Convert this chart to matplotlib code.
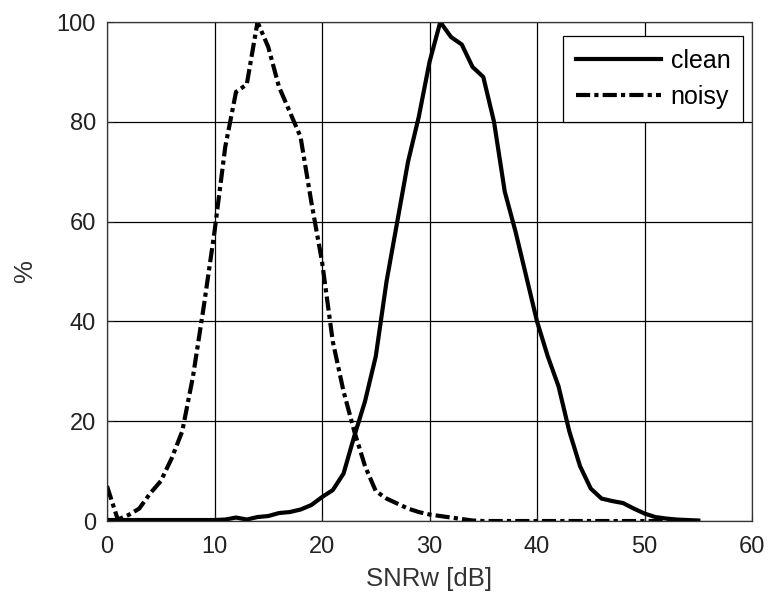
import matplotlib.pyplot as plt

plt.rcParams['font.family'] = ['Liberation Sans', 'DejaVu Sans']

# SNRw axis (dB)
snr = list(range(0, 56))

# histogram of clean speech (%)
clean = [0.2, 0.2, 0.2, 0.2, 0.2, 0.2, 0.2, 0.2, 0.2, 0.2,
         0.2, 0.3, 0.7, 0.3, 0.8, 1.0, 1.6, 1.8, 2.3, 3.2,
         4.8, 6.2, 9.5, 17, 24, 33, 48, 60, 72, 81,
         92, 100, 97, 95.5, 91, 89, 80, 66, 58, 49,
         40, 33, 27, 18, 11, 6.5, 4.5, 4.0, 3.6, 2.5,
         1.5, 0.8, 0.5, 0.3, 0.2, 0.1]

# histogram of noisy speech (%)
noisy = [7, 0.3, 1.2, 2.5, 5.5, 8, 12.5, 18, 29, 43,
         58, 75, 86, 87.5, 100, 95, 87, 82, 77, 64,
         52, 36, 26, 18, 11, 6, 4.5, 3.5, 2.5, 1.8,
         1.3, 1.0, 0.7, 0.4, 0.1, 0, 0, 0, 0, 0,
         0, 0, 0, 0, 0, 0, 0, 0, 0, 0,
         0, 0, 0, 0, 0, 0]

fig = plt.figure(figsize=(7.71, 5.96), dpi=100)
ax = fig.add_axes([0.1388, 0.1258, 0.8366, 0.8372])

ax.plot(snr, clean, '-', color='black', linewidth=3, label='clean')
ax.plot(snr, noisy, color='black', linewidth=3,
        linestyle=(0, (3.4, 1.0, 1.0, 1.0)), label='noisy')

ax.set_xlim(0, 60)
ax.set_ylim(0, 100)
ax.set_xticks(range(0, 61, 10))
ax.set_yticks(range(0, 101, 20))
ax.grid(True, color='black', linewidth=0.9)
ax.tick_params(direction='in', length=4, labelsize=17, colors='#222222')
ax.tick_params(axis='x', pad=11)
ax.tick_params(axis='y', pad=8)
for s in ax.spines.values():
    s.set_color('#333333')
    s.set_linewidth(0.9)

ax.set_xlabel('SNRw [dB]', fontsize=18.5, color='#333333', labelpad=6)
ax.set_ylabel('%', fontsize=18.5, color='#333333', labelpad=14)

leg = ax.legend(loc='upper right', fontsize=18, fancybox=False,
                framealpha=1, edgecolor='black', handlelength=3.4,
                handletextpad=0.4, borderpad=0.5, labelspacing=0.5,
                borderaxespad=0, bbox_to_anchor=(0.986, 0.972))
leg.get_frame().set_linewidth(0.9)

fig.savefig('out.png', dpi=100)
